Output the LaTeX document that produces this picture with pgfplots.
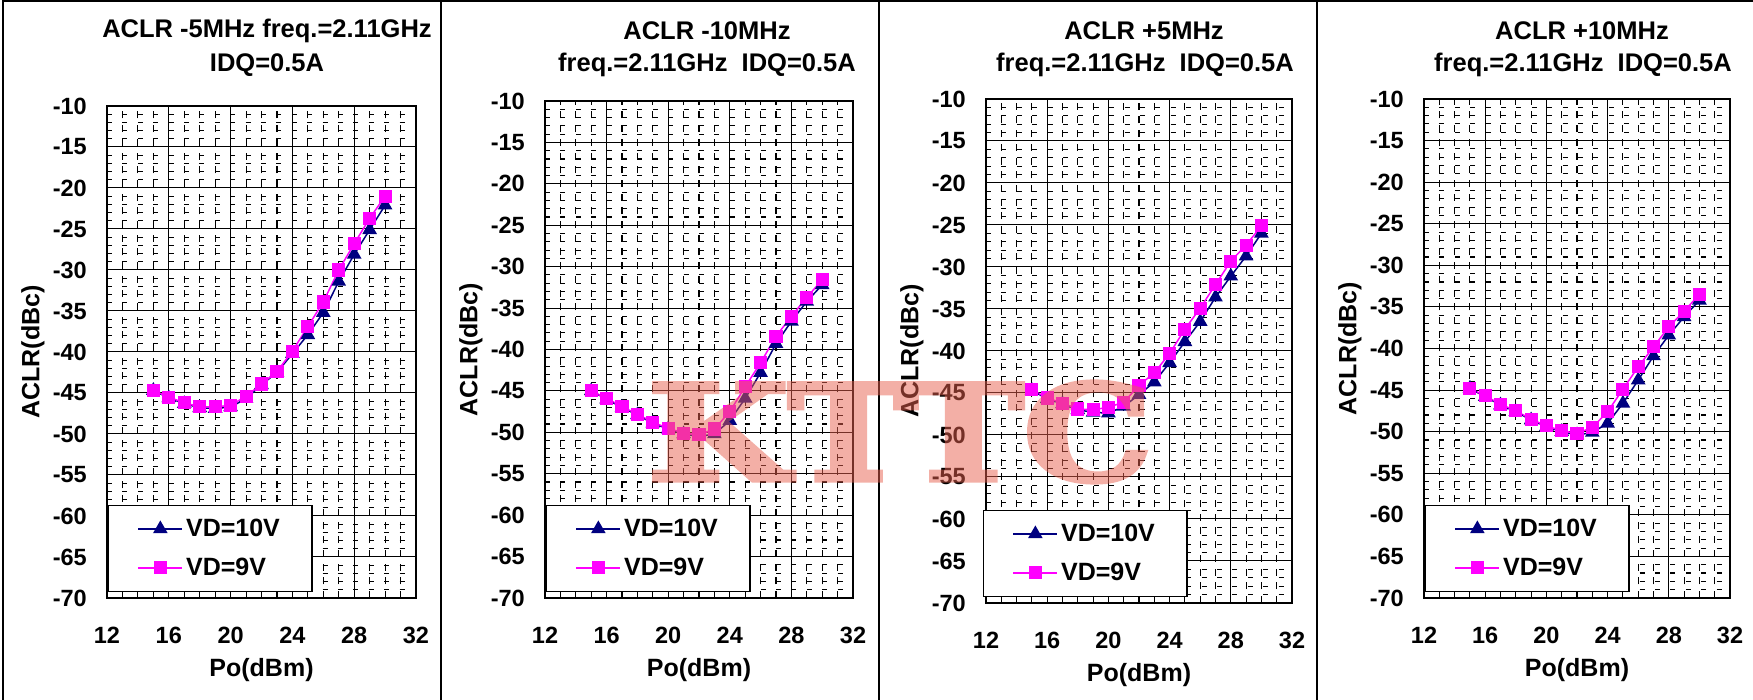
\documentclass[border=0pt]{standalone}
\usepackage{pgfplots}
\usepackage{pgfplotstable}
\pgfplotsset{compat=1.18}
\usepackage{fontspec}
\setmainfont{Liberation Sans}
\newfontfamily\wmfont{DejaVu Serif}[BoldFeatures={FakeBold=4}]
\usepackage{graphicx}

\definecolor{navyc}{RGB}{0,0,128}
\definecolor{magc}{RGB}{255,0,255}
\definecolor{wmc}{RGB}{232,96,78}

\newcommand\ttlfont{\fontsize{25.5}{30}\bfseries\selectfont}
\newcommand\tickfont{\fontsize{23.5}{28}\bfseries\selectfont}
\newcommand\labfont{\fontsize{25}{30}\bfseries\selectfont}
\newcommand\legfont{\fontsize{25}{30}\bfseries\selectfont}

\pgfplotstableread{
x v10 v9
15 -44.7 -44.7
16 -45.6 -45.5
17 -46.3 -46.2
18 -46.8 -46.7
19 -46.9 -46.7
20 -46.7 -46.5
21 -45.7 -45.4
22 -44.0 -43.9
23 -42.5 -42.4
24 -40.2 -39.9
25 -37.9 -36.9
26 -35.2 -33.9
27 -31.4 -30.0
28 -28.1 -26.8
29 -25.1 -23.7
30 -22.1 -21.0
}\tabA
\pgfplotstableread{
x v10 v9
15 -45.0 -45.0
16 -46.0 -45.9
17 -47.0 -46.9
18 -47.9 -47.8
19 -48.9 -48.8
20 -49.6 -49.5
21 -50.2 -50.1
22 -50.5 -50.3
23 -50.2 -49.6
24 -48.6 -47.5
25 -45.9 -44.5
26 -42.8 -41.6
27 -39.3 -38.4
28 -36.6 -36.0
29 -34.2 -33.7
30 -32.2 -31.6
}\tabB
\pgfplotstableread{
x v10 v9
15 -44.7 -44.6
16 -45.7 -45.6
17 -46.3 -46.2
18 -47.0 -46.9
19 -47.3 -47.0
20 -47.4 -46.7
21 -46.6 -46.1
22 -45.2 -44.1
23 -43.7 -42.6
24 -41.4 -40.3
25 -38.9 -37.4
26 -36.5 -34.9
27 -33.6 -32.1
28 -31.1 -29.3
29 -28.7 -27.4
30 -26.0 -25.1
}\tabC
\pgfplotstableread{
x v10 v9
15 -44.8 -44.8
16 -45.8 -45.7
17 -46.8 -46.7
18 -47.6 -47.5
19 -48.6 -48.5
20 -49.4 -49.3
21 -50.0 -49.9
22 -50.4 -50.2
23 -50.1 -49.5
24 -49.0 -47.6
25 -46.6 -44.9
26 -43.8 -42.2
27 -40.9 -39.8
28 -38.4 -37.4
29 -36.2 -35.5
30 -34.2 -33.5
}\tabD

\pgfplotsset{
  aclr/.style={
    scale only axis,
    xmin=12, xmax=32, ymin=-70, ymax=-10,
    xtick={12,16,20,24,28,32},
    xticklabels={12,16,20,24,28,32},
    ytick={-70,-65,-60,-55,-50,-45,-40,-35,-30,-25,-20,-15,-10},
    yticklabels={-70,-65,-60,-55,-50,-45,-40,-35,-30,-25,-20,-15,-10},
    minor x tick num=3, minor y tick num=4,
    grid=both,
    major grid style={black, line width=1pt},
    minor x grid style={black, line width=1.1pt, dash pattern=on 7pt off 6.7pt},
    minor y grid style={black, line width=1.1pt, dash pattern=on 5pt off 10.4pt},
    axis line style={black, line width=1.8pt},
    major tick length=0pt, minor tick length=0pt,
    tick style={draw=none},
    xticklabel style={font=\tickfont, anchor=base, inner sep=0pt, yshift=-46pt},
    yticklabel style={font=\tickfont, anchor=east, inner sep=0pt, xshift=-20pt},
    xlabel={Po(dBm)}, ylabel={ACLR(dBc)},
    every axis x label/.style={at={(axis description cs:0.5,0)}, anchor=center, yshift=-72pt, font=\labfont},
    every axis y label/.style={at={([xshift=-74pt]axis description cs:0,0.5)}, rotate=90, anchor=center, font=\labfont},
    legend cell align=left,
    legend image code/.code={\draw[mark repeat=2,mark phase=2,#1] plot coordinates {(0pt,0pt) (22pt,0pt) (44pt,0pt)};},
    legend style={at={(axis description cs:0,0)}, anchor=south west, xshift=1pt, yshift=6pt,
      draw=black, line width=1.2pt, fill=white, font=\legfont,
      inner xsep=29pt, inner ysep=11pt, row sep=14pt,
      nodes={inner sep=3pt}},
  },
  s10/.style={color=navyc, line width=1.5pt, mark=triangle*, mark size=7pt, mark options={solid, fill=navyc}},
  s9/.style={color=magc, line width=1.5pt, mark=square*, mark size=5.8pt, mark options={solid, fill=magc}},
}

\begin{document}
\begin{tikzpicture}[x=1pt,y=1pt]
\useasboundingbox (0pt,0pt) rectangle (1753pt,700pt);
\fill[white] (0pt,0pt) rectangle (1753pt,700pt);
% panel frames
\draw[black, line width=2pt] (3pt,-5pt) -- (3pt,699pt) -- (1760pt,699pt);
\draw[black, line width=2pt] (441pt,-5pt) -- (441pt,699pt);
\draw[black, line width=2pt] (879pt,-5pt) -- (879pt,699pt);
\draw[black, line width=2pt] (1317pt,-5pt) -- (1317pt,699pt);

\begin{axis}[aclr, at={(107pt,102pt)}, anchor=south west, width=309pt, height=492pt]
\addplot[s10] table[x=x, y=v10] {\tabA};
\addplot[s9] table[x=x, y=v9] {\tabA};
\legend{VD=10V, VD=9V}
\end{axis}
\node[font=\ttlfont] at (267pt,669pt) {ACLR -5MHz freq.=2.11GHz};
\node[font=\ttlfont] at (267pt,635pt) {IDQ=0.5A};

\begin{axis}[aclr, at={(545pt,102pt)}, anchor=south west, width=308pt, height=497pt]
\addplot[s10] table[x=x, y=v10] {\tabB};
\addplot[s9] table[x=x, y=v9] {\tabB};
\legend{VD=10V, VD=9V}
\end{axis}
\node[font=\ttlfont] at (707pt,669pt) {ACLR -10MHz};
\node[font=\ttlfont] at (707pt,635pt) {freq.=2.11GHz\ \ IDQ=0.5A};

\begin{axis}[aclr, at={(986pt,97pt)}, anchor=south west, width=306pt, height=504pt,
  legend style={xshift=-4pt}]
\addplot[s10] table[x=x, y=v10] {\tabC};
\addplot[s9] table[x=x, y=v9] {\tabC};
\legend{VD=10V, VD=9V}
\end{axis}
\node[font=\ttlfont] at (1144pt,669pt) {ACLR +5MHz};
\node[font=\ttlfont] at (1145pt,635pt) {freq.=2.11GHz\ \ IDQ=0.5A};

\begin{axis}[aclr, at={(1424pt,102pt)}, anchor=south west, width=306pt, height=499pt]
\addplot[s10] table[x=x, y=v10] {\tabD};
\addplot[s9] table[x=x, y=v9] {\tabD};
\legend{VD=10V, VD=9V}
\end{axis}
\node[font=\ttlfont] at (1582pt,669pt) {ACLR +10MHz};
\node[font=\ttlfont] at (1583pt,635pt) {freq.=2.11GHz\ \ IDQ=0.5A};

% watermark
\begin{scope}[transparency group, opacity=0.5]
\node[text=wmc, inner sep=0pt] at (900pt,268pt)
  {\resizebox{504pt}{98pt}{\wmfont\bfseries KTTC}};
\end{scope}
\end{tikzpicture}
\end{document}
